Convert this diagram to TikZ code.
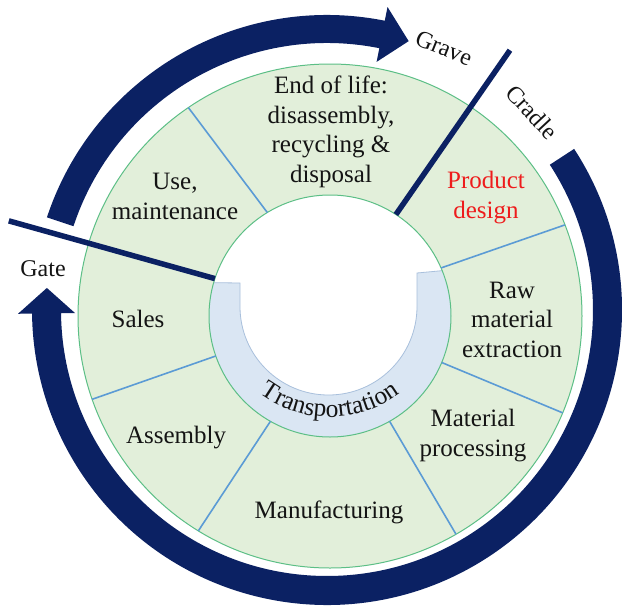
\documentclass[tikz,border=0pt]{standalone}
\usepackage{fontspec}
\setmainfont{Liberation Serif}
\usetikzlibrary{decorations.text}

\definecolor{navy}{HTML}{0B2163}
\definecolor{ringfill}{HTML}{E2EFDA}
\definecolor{ringline}{HTML}{5CBF86}
\definecolor{sepline}{HTML}{5B9BD5}
\definecolor{bandfill}{HTML}{DAE6F3}
\definecolor{bandline}{HTML}{A9C0DC}
\definecolor{stagered}{HTML}{EE1C1C}
\definecolor{ink}{HTML}{141414}

% multi-line labels are placed by the baseline of their last line
\tikzset{
  stage/.style={align=center, anchor=base, inner sep=0pt, text=ink,
                font=\fontsize{25}{29.5}\selectfont},
  marker/.style={inner sep=0pt, text=ink, font=\fontsize{24}{28}\selectfont},
  divider/.style={draw=sepline, line width=1.6pt},
  boundary/.style={draw=navy, line width=5.5pt},
  flow/.style={fill=navy},
}

\begin{document}
\begin{tikzpicture}[x=1pt,y=1pt]
\fill[white] (0,0) rectangle (622,-608);
\useasboundingbox (0,0) rectangle (622,-608);
\coordinate (G) at (330,-316);   % centre of the stage ring
\coordinate (A) at (327,-310);   % centre of the cycle arrows

% stage ring
\fill[ringfill, even odd rule] (G) circle[radius=252] (G) circle[radius=121];

% transportation band inside the ring
\begin{scope}
  \clip (G) circle[radius=121];
  \fill[bandfill] (200,-282.5) -- (240,-283) -- (240,-306.5)
      arc[start angle=180, end angle=360, radius=88.5]
      -- (417,-273) -- (460,-269) -- (460,-450) -- (200,-450) -- cycle;
  \draw[bandline, line width=0.8pt] (200,-282.5) -- (240,-283) -- (240,-306.5)
      arc[start angle=180, end angle=360, radius=88.5]
      -- (417,-273) -- (460,-269);
\end{scope}

\draw[ringline, line width=1pt] (G) circle[radius=252] (G) circle[radius=121];

% thin dividers between stages
\begin{scope}[shift={(G)}]
  \foreach \ai/\ao in {121.2/124.2, 23.4/21.2, -22.6/-22.6, -60.5/-60,
                       -119.5/-121.5, -160.7/-160.7}
    \draw[divider] (\ai:121) -- (\ao:252);
  % gate and cradle/grave boundaries
  \draw[boundary] (162:121) -- (163.5:335);
  \draw[boundary] (57:121) -- (55.9:321);
\end{scope}

% cycle arrows
\begin{scope}[shift={(A)}]
  \fill[flow] (161.7:295) arc[start angle=161.7, end angle=78.7, radius=295]
      -- (78.7:309) -- (73.1:281) -- (78.7:253) -- (78.7:267)
      arc[start angle=78.7, end angle=161.7, radius=267] -- cycle;
  \fill[flow] (33.1:295) arc[start angle=33.1, end angle=-179.3, radius=295]
      -- (-179.3:309) -- (-184.5:281) -- (-179.3:252) -- (-179.3:266)
      arc[start angle=-179.3, end angle=33.1, radius=266] -- cycle;
\end{scope}

% stage labels
\node[stage] (eol) at (331,-182) {End of life:\\disassembly,\\recycling \&\\disposal};
\node[stage] (use) at (175,-219) {Use,\\maintenance};
\node[stage, text=stagered] (design) at (486,-218) {Product\\design};
\node[stage] (raw) at (512,-357) {Raw\\material\\extraction};
\node[stage] (proc) at (473,-456) {Material\\processing};
\node[stage] (manu) at (329,-518) {Manufacturing};
\node[stage] (asm) at (176,-443) {Assembly};
\node[stage] (sales) at (138,-327) {Sales};

% boundary markers
\node[marker, anchor=base] (gate) at (43,-276) {Gate};
\node[marker, rotate=-22] (grave) at (444,-48) {Grave};
\node[marker, rotate=-47] (cradle) at (532,-112) {Cradle};

% curved transportation label
\path[decorate, decoration={text along path, text align=center, text color=ink,
      text={|\fontsize{25.5}{25}\selectfont|Transportation}}]
  (330,-300) ++(215:117) arc[start angle=215, end angle=325, radius=117];
\end{tikzpicture}
\end{document}
